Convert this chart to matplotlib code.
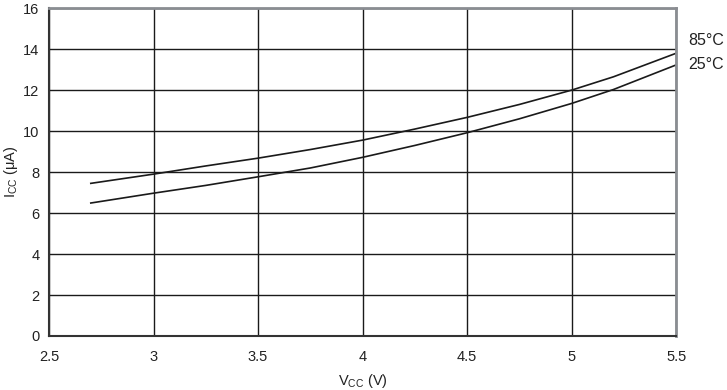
import matplotlib
matplotlib.use("Agg")
import matplotlib.pyplot as plt

plt.rcParams["font.family"] = ["Liberation Sans", "DejaVu Sans"]
plt.rcParams["mathtext.fontset"] = "custom"
plt.rcParams["mathtext.rm"] = "Liberation Sans"

# supply voltage (V)
vcc = [2.7, 3.0, 3.25, 3.5, 3.75, 4.0, 4.25, 4.5, 4.75, 5.0, 5.2, 5.5]
# supply current (uA)
icc_85 = [7.45, 7.9, 8.3, 8.68, 9.1, 9.56, 10.1, 10.67, 11.3, 12.0, 12.65, 13.8]
icc_25 = [6.49, 6.97, 7.35, 7.77, 8.2, 8.72, 9.3, 9.92, 10.6, 11.35, 12.03, 13.23]

fig = plt.figure(figsize=(7.27, 3.9), dpi=100)
ax = fig.add_axes([0.0674, 0.1385, 0.8626, 0.8405])

ax.plot(vcc, icc_85, color="#1a1a1a", lw=1.2)
ax.plot(vcc, icc_25, color="#1a1a1a", lw=1.2)

ax.set_xlim(2.5, 5.5)
ax.set_ylim(0, 16)
ax.set_xticks([2.5, 3, 3.5, 4, 4.5, 5, 5.5])
ax.set_xticklabels(["2.5", "3", "3.5", "4", "4.5", "5", "5.5"])
ax.set_yticks(range(0, 17, 2))
ax.grid(True, color="#1a1a1a", lw=1.0)
ax.tick_params(length=0, labelsize=10.5, colors="#222222", pad=7)
ax.tick_params(axis="x", pad=10)

for side in ["left", "bottom"]:
    ax.spines[side].set_color("#333333")
    ax.spines[side].set_linewidth(1.5)
for side in ["top", "right"]:
    ax.spines[side].set_color("#8a8d92")
    ax.spines[side].set_linewidth(2)

ax.set_xlabel(r"V$_{\mathrm{CC}}$ (V)", fontsize=10.5, color="#222222", labelpad=6)
ax.set_ylabel(r"I$_{\mathrm{CC}}$ ($\mathrm{\mu}$A)", fontsize=10.5, color="#222222")
ax.yaxis.set_label_coords(-0.046, 0.5)

ax.text(1.02, icc_85[-1] + 0.6, "85°C", transform=ax.get_yaxis_transform(),
        fontsize=11.5, color="#222222", va="center", ha="left")
ax.text(1.02, icc_25[-1] - 0.0, "25°C", transform=ax.get_yaxis_transform(),
        fontsize=11.5, color="#222222", va="center", ha="left")

fig.savefig("out.png", dpi=100)
